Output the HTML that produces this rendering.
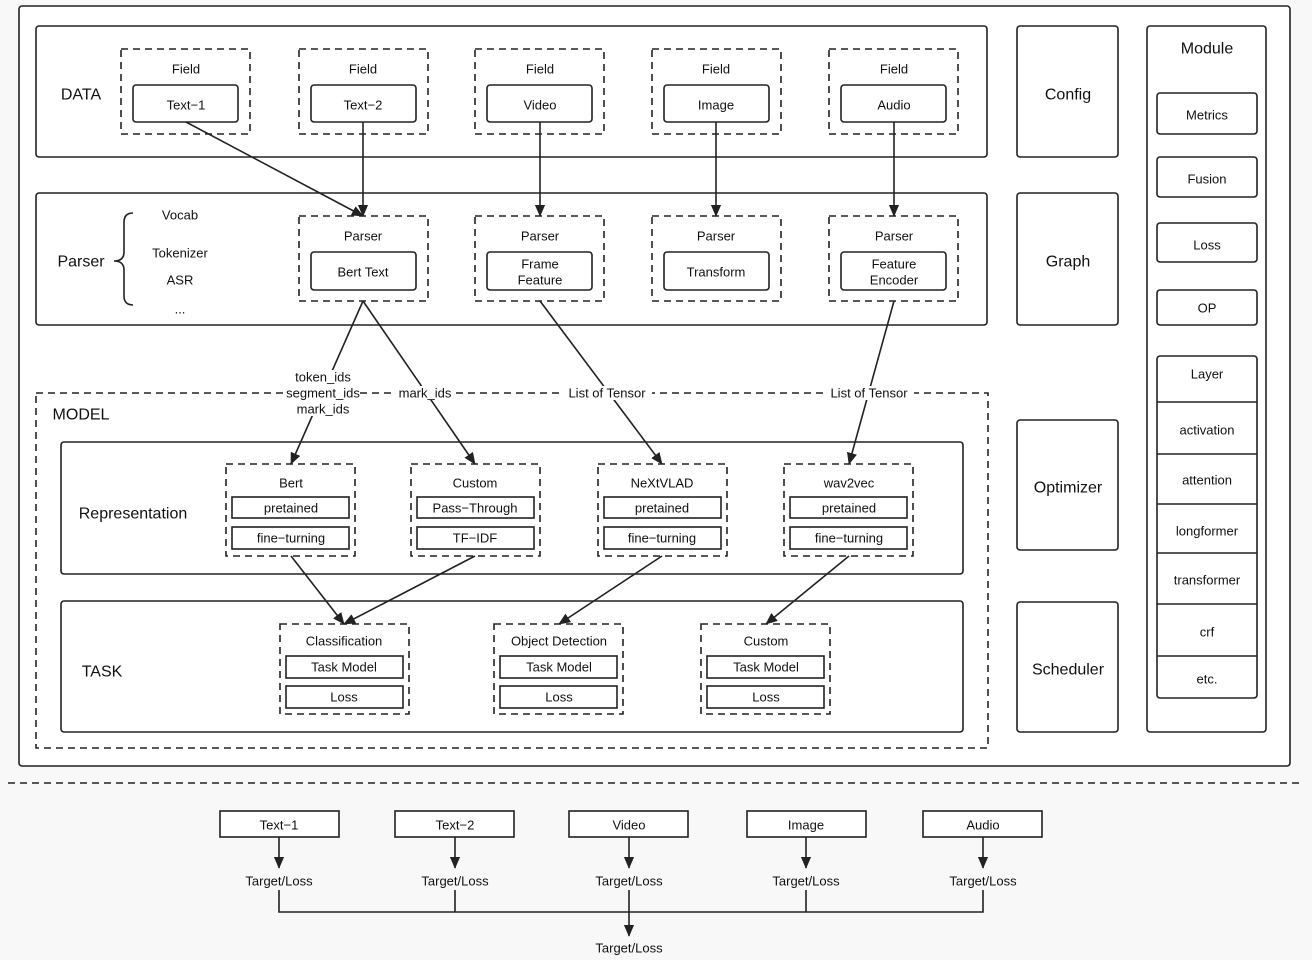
<!DOCTYPE html>
<html><head><meta charset="utf-8"><style>
html,body{margin:0;padding:0;background:#f8f8f8}
svg{display:block}
text{font-family:"Liberation Sans",sans-serif;fill:#111;text-anchor:middle;dominant-baseline:central}
</style></head><body>
<svg width="1312" height="960" viewBox="0 0 1312 960" xmlns="http://www.w3.org/2000/svg">
<defs>
<marker id="b" markerWidth="12" markerHeight="14" refX="13" refY="6" orient="auto" markerUnits="userSpaceOnUse" viewBox="0 0 14 12"><path d="M0,0L14,6L0,12z" fill="#222"/></marker></defs>
<g fill="#fff" stroke="#222" stroke-width="1.6">
<rect x="19" y="6" width="1271" height="760" rx="3"/>
<rect x="36" y="26" width="951" height="131" rx="3"/>
<rect x="36" y="193" width="951" height="132" rx="3"/>
<rect x="1017" y="26" width="101" height="131" rx="3"/>
<rect x="1017" y="193" width="101" height="132" rx="3"/>
<rect x="1017" y="420" width="101" height="130" rx="3"/>
<rect x="1017" y="602" width="101" height="130" rx="3"/>
<rect x="1147" y="26" width="119" height="706" rx="3"/>
<rect x="1157" y="93" width="100" height="41" rx="3"/>
<rect x="1157" y="157" width="100" height="40" rx="3"/>
<rect x="1157" y="223" width="100" height="39" rx="3"/>
<rect x="1157" y="290" width="100" height="35" rx="3"/>
<rect x="1157" y="356" width="100" height="342" rx="3"/>
<path d="M1157 402H1257M1157 454H1257M1157 504H1257M1157 553H1257M1157 604H1257M1157 656H1257" fill="none"/>
<rect x="36" y="393" width="952" height="355" fill="none" stroke-dasharray="7,5"/>
<rect x="61" y="442" width="902" height="132" rx="3"/>
<rect x="61" y="601" width="902" height="131" rx="3"/>
</g>
<g fill="none" stroke="#222" stroke-width="1.6" stroke-dasharray="7,5">
<rect x="121" y="49" width="129" height="85"/><rect x="299" y="49" width="129" height="85"/><rect x="475" y="49" width="129" height="85"/><rect x="652" y="49" width="129" height="85"/><rect x="829" y="49" width="129" height="85"/>
<rect x="299" y="216" width="129" height="85"/><rect x="475" y="216" width="129" height="85"/><rect x="652" y="216" width="129" height="85"/><rect x="829" y="216" width="129" height="85"/>
<rect x="226" y="464" width="129" height="92"/><rect x="411" y="464" width="129" height="92"/><rect x="598" y="464" width="129" height="92"/><rect x="784" y="464" width="129" height="92"/>
<rect x="280" y="624" width="129" height="90"/><rect x="494" y="624" width="129" height="90"/><rect x="701" y="624" width="129" height="90"/>
<path d="M8 783H1304"/>
</g>
<g fill="#fff" stroke="#222" stroke-width="1.6">
<rect x="133" y="85" width="105" height="37" rx="3"/><rect x="311" y="85" width="105" height="37" rx="3"/><rect x="487" y="85" width="105" height="37" rx="3"/><rect x="664" y="85" width="105" height="37" rx="3"/><rect x="841" y="85" width="105" height="37" rx="3"/>
<rect x="311" y="252" width="105" height="38" rx="3"/><rect x="487" y="252" width="105" height="38" rx="3"/><rect x="664" y="252" width="105" height="38" rx="3"/><rect x="841" y="252" width="105" height="38" rx="3"/>
<rect x="232" y="497" width="117" height="21"/><rect x="232" y="527" width="117" height="22"/>
<rect x="417" y="497" width="117" height="21"/><rect x="417" y="527" width="117" height="22"/>
<rect x="604" y="497" width="117" height="21"/><rect x="604" y="527" width="117" height="22"/>
<rect x="790" y="497" width="117" height="21"/><rect x="790" y="527" width="117" height="22"/>
<rect x="286" y="656" width="117" height="22"/><rect x="286" y="686" width="117" height="22"/>
<rect x="500" y="656" width="117" height="22"/><rect x="500" y="686" width="117" height="22"/>
<rect x="707" y="656" width="117" height="22"/><rect x="707" y="686" width="117" height="22"/>
<rect x="220" y="811" width="119" height="26"/><rect x="395" y="811" width="119" height="26"/><rect x="569" y="811" width="119" height="26"/><rect x="747" y="811" width="119" height="26"/><rect x="923" y="811" width="119" height="26"/>
</g>
<g fill="none" stroke="#222" stroke-width="1.6" marker-end="url(#b)">
<path d="M186 122L363 216"/><path d="M363 122V216"/><path d="M540 122V216"/><path d="M716 122V216"/><path d="M894 122V216"/>
<path d="M363 301L291 464"/><path d="M363 301L475 464"/><path d="M540 301L662 464"/><path d="M894 301L849 464"/>
<path d="M291 556L344 624"/><path d="M475 556L344 624"/><path d="M662 556L559 624"/><path d="M849 556L766 624"/>
<path d="M279 837V868"/><path d="M455 837V868"/><path d="M629 837V868"/><path d="M806 837V868"/><path d="M983 837V868"/>
<path d="M629 890V936"/>
</g>
<g fill="none" stroke="#222" stroke-width="1.6">
<path d="M279 890V912H983V890M455 890V912M806 890V912"/>
<path d="M133 213Q124 213 124 222V252Q124 261 114 261Q124 261 124 270V296Q124 305 133 305"/>
</g>
<g fill="#fff"><rect x="288" y="370" width="70" height="46"/><rect x="396" y="386" width="58" height="14"/><rect x="562" y="386" width="90" height="14"/><rect x="824" y="386" width="90" height="14"/></g>
<g font-size="13">
<text x="186" y="69">Field</text><text x="363" y="69">Field</text><text x="540" y="69">Field</text><text x="716" y="69">Field</text><text x="894" y="69">Field</text>
<text x="186" y="105">Text−1</text><text x="363" y="105">Text−2</text><text x="540" y="105">Video</text><text x="716" y="105">Image</text><text x="894" y="105">Audio</text>
<text x="363" y="236">Parser</text><text x="540" y="236">Parser</text><text x="716" y="236">Parser</text><text x="894" y="236">Parser</text>
<text x="363" y="272">Bert Text</text><text x="540" y="264">Frame</text><text x="540" y="280">Feature</text><text x="716" y="272">Transform</text><text x="894" y="264">Feature</text><text x="894" y="280">Encoder</text>
<text x="180" y="215">Vocab</text><text x="180" y="253">Tokenizer</text><text x="180" y="280">ASR</text><text x="180" y="309">...</text>
<text x="323" y="377">token_ids</text><text x="323" y="393">segment_ids</text><text x="323" y="409">mark_ids</text><text x="425" y="393">mark_ids</text><text x="607" y="393">List of Tensor</text><text x="869" y="393">List of Tensor</text>
<text x="291" y="483">Bert</text><text x="475" y="483">Custom</text><text x="662" y="483">NeXtVLAD</text><text x="849" y="483">wav2vec</text>
<text x="291" y="508">pretained</text><text x="291" y="538">fine−turning</text>
<text x="475" y="508">Pass−Through</text><text x="475" y="538">TF−IDF</text>
<text x="662" y="508">pretained</text><text x="662" y="538">fine−turning</text>
<text x="849" y="508">pretained</text><text x="849" y="538">fine−turning</text>
<text x="344" y="641">Classification</text><text x="559" y="641">Object Detection</text><text x="766" y="641">Custom</text>
<text x="344" y="667">Task Model</text><text x="344" y="697">Loss</text>
<text x="559" y="667">Task Model</text><text x="559" y="697">Loss</text>
<text x="766" y="667">Task Model</text><text x="766" y="697">Loss</text>
<text x="1207" y="115">Metrics</text><text x="1207" y="179">Fusion</text><text x="1207" y="245">Loss</text><text x="1207" y="308">OP</text>
<text x="1207" y="374">Layer</text><text x="1207" y="430">activation</text><text x="1207" y="480">attention</text><text x="1207" y="531">longformer</text><text x="1207" y="580">transformer</text><text x="1207" y="632">crf</text><text x="1207" y="679">etc.</text>
<text x="279" y="825">Text−1</text><text x="455" y="825">Text−2</text><text x="629" y="825">Video</text><text x="806" y="825">Image</text><text x="983" y="825">Audio</text>
<text x="279" y="881">Target/Loss</text><text x="455" y="881">Target/Loss</text><text x="629" y="881">Target/Loss</text><text x="806" y="881">Target/Loss</text><text x="983" y="881">Target/Loss</text><text x="629" y="948">Target/Loss</text>
</g>
<g font-size="16">
<text x="81" y="95">DATA</text><text x="81" y="262">Parser</text><text x="81" y="415">MODEL</text>
<text x="133" y="514">Representation</text><text x="102" y="672">TASK</text>
<text x="1068" y="95">Config</text><text x="1068" y="262">Graph</text><text x="1068" y="488">Optimizer</text><text x="1068" y="670">Scheduler</text><text x="1207" y="49">Module</text>
</g>
</svg>
</body></html>
